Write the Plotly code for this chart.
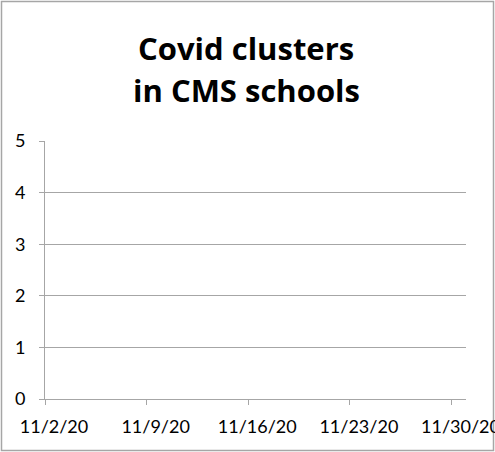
import plotly.graph_objects as go

# Data (chart shows no plotted values)
dates = ["2020-11-02", "2020-11-09", "2020-11-16", "2020-11-23", "2020-11-30"]
tick_labels = ["11/2/20", "11/9/20", "11/16/20", "11/23/20", "11/30/20"]
clusters = [None, None, None, None, None]
y_ticks = [0, 1, 2, 3, 4, 5]
title_lines = ["Covid clusters", "in CMS schools"]

GRAY = "#a6a6a6"
FONT = "Lato, Carlito, Calibri, sans-serif"
TITLE_FONT = "'Open Sans', Calibri, sans-serif"

fig = go.Figure()
fig.add_trace(go.Scatter(x=dates, y=clusters, mode="lines",
                         line=dict(color="#4472c4"), showlegend=False))

W, H = 495, 452
L, R, T, B = 45, 29, 141, 53
pw, ph = W - L - R, H - T - B

def px_to_paper_x(px):
    return (px - L) / pw

def px_to_paper_y(py):
    return (H - B - py) / ph

fig.update_layout(
    width=W, height=H, autosize=False,
    margin=dict(l=L, r=R, t=T, b=B, pad=0, autoexpand=False),
    paper_bgcolor="white", plot_bgcolor="white",
    font=dict(family=FONT, size=18, color="black"),
    xaxis=dict(
        type="date",
        range=["2020-11-02", "2020-12-01"],
        tickvals=dates, ticktext=tick_labels,
        ticks="outside", ticklen=5, tickcolor=GRAY, tickwidth=1,
        showline=True, linecolor=GRAY, linewidth=1,
        showgrid=False, zeroline=False, automargin=False,
        ticklabelshift=9, ticklabelstandoff=6,
        ticklabeloverflow="allow",
        tickfont=dict(family=FONT, size=18, color="black"),
    ),
    yaxis=dict(
        range=[0, 5],
        tickvals=y_ticks,
        ticks="outside", ticklen=5, tickcolor=GRAY, tickwidth=1,
        showline=True, linecolor=GRAY, linewidth=1,
        showgrid=True, gridcolor=GRAY, gridwidth=1,
        zeroline=False, automargin=False,
        ticklabelstandoff=10,
        tickfont=dict(family=FONT, size=18, color="black"),
    ),
    shapes=[dict(
        type="rect", xref="paper", yref="paper",
        x0=px_to_paper_x(1.5), x1=px_to_paper_x(493.5),
        y0=px_to_paper_y(450.5), y1=px_to_paper_y(1.5),
        line=dict(color=GRAY, width=1.5), fillcolor="rgba(0,0,0,0)",
        layer="below",
    )],
    annotations=[
        dict(text="<b>" + title_lines[0] + "</b>", xref="paper", yref="paper",
             x=px_to_paper_x(246), y=px_to_paper_y(48), xanchor="center", yanchor="middle",
             showarrow=False, font=dict(family=TITLE_FONT, size=31, color="black")),
        dict(text="<b>" + title_lines[1] + "</b>", xref="paper", yref="paper",
             x=px_to_paper_x(246), y=px_to_paper_y(90), xanchor="center", yanchor="middle",
             showarrow=False, font=dict(family=TITLE_FONT, size=31, color="black")),
    ],
)

fig.write_html(
    "out.html",
    config={"displayModeBar": False, "responsive": False},
    post_script="document.body.style.margin='0';document.body.style.overflow='hidden';",
)
